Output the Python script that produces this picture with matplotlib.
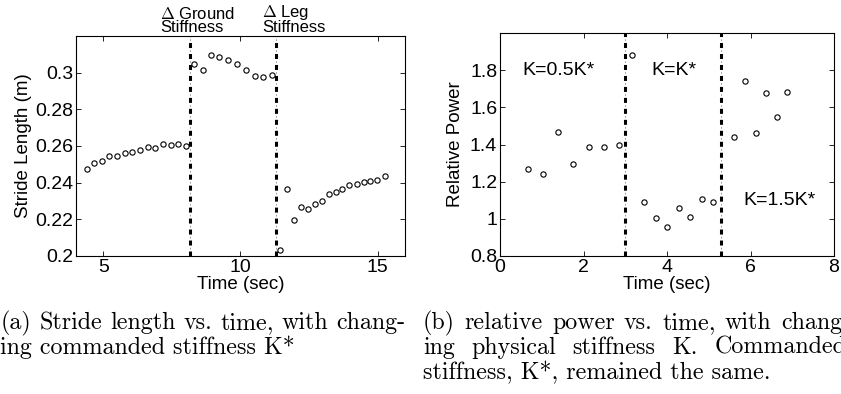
import matplotlib
matplotlib.use("Agg")
import matplotlib.pyplot as plt
import numpy as np

plt.rcParams['font.family'] = ['Liberation Sans', 'DejaVu Sans']
plt.rcParams['mathtext.fontset'] = 'cm'
plt.rcParams['lines.scale_dashes'] = False

# (a) stride length vs time
t_a = [4.39, 4.67, 4.94, 5.22, 5.50, 5.78, 6.05, 6.33, 6.61, 6.89, 7.17, 7.45, 7.73, 8.01,
       8.32, 8.63, 8.92, 9.23, 9.56, 9.88, 10.20, 10.52, 10.83, 11.14,
       11.44, 11.70, 11.95, 12.21, 12.46, 12.73, 12.97, 13.23, 13.47, 13.71, 13.97,
       14.24, 14.49, 14.74, 14.99, 15.26]
stride = [0.2476, 0.2507, 0.2520, 0.2547, 0.2547, 0.2564, 0.2568, 0.2580, 0.2597, 0.2589,
          0.2609, 0.2604, 0.2613, 0.2599,
          0.3047, 0.3016, 0.3099, 0.3084, 0.3068, 0.3046, 0.3013, 0.2984, 0.2974, 0.2985,
          0.2033, 0.2363, 0.2195, 0.2265, 0.2257, 0.2286, 0.2301, 0.2336, 0.2350, 0.2367,
          0.2385, 0.2391, 0.2405, 0.2407, 0.2414, 0.2434]
changes_a = [8.16, 11.29]
change_labels = ["$\\Delta$ Ground\nStiffness", "$\\Delta$ Leg\nStiffness"]
label_x = [7.06, 10.78]

# (b) relative power vs time
t_b = [0.66, 1.04, 1.40, 1.76, 2.12, 2.48, 2.84,
       3.16, 3.45, 3.74, 4.01, 4.29, 4.56, 4.83, 5.10,
       5.61, 5.88, 6.12, 6.38, 6.63, 6.87]
power = [1.269, 1.242, 1.466, 1.296, 1.387, 1.389, 1.396,
         1.879, 1.093, 1.005, 0.954, 1.059, 1.010, 1.107, 1.091,
         1.439, 1.743, 1.461, 1.676, 1.549, 1.685]
changes_b = [3.0, 5.3]
regions_b = ["K=0.5K*", "K=K*", "K=1.5K*"]
region_pos = [(1.39, 1.80), (4.16, 1.80), (6.69, 1.096)]

W, H = 841, 394
fig = plt.figure(figsize=(W / 100, H / 100), dpi=100)
ax1 = fig.add_axes([76 / W, 1 - 256 / H, 329 / W, 220 / H])
ax2 = fig.add_axes([500 / W, 1 - 256 / H, 334 / W, 223 / H])


def change_line(ax, x):
    # matlab style dash-dot: thick black dashes, thin grey dots in between
    ax.axvline(x, color='black', lw=2.2, linestyle=(0, (3.6, 4.3)))
    ax.axvline(x, color='#999999', lw=0.7, linestyle=(2.8, (1.2, 6.7)))


for ax in (ax1, ax2):
    ax.tick_params(direction='in', top=True, right=True, length=3.5, width=0.6,
                   labelsize=14, pad=2)
    for s in ax.spines.values():
        s.set_linewidth(0.8)

ax1.plot(t_a, stride, 'o', mfc='none', mec='black', ms=3.8, mew=0.8)
for x in changes_a:
    change_line(ax1, x)
for x, lab in zip(label_x, change_labels):
    ax1.text(x, 1.005, lab, transform=ax1.get_xaxis_transform(), ha='left',
             va='bottom', fontsize=12, linespacing=0.8)
ax1.set_xlim(4, 16)
ax1.set_ylim(0.2, 0.32)
ax1.set_xticks([5, 10, 15])
ax1.set_yticks([0.2, 0.22, 0.24, 0.26, 0.28, 0.3])
ax1.set_yticklabels(['0.2', '0.22', '0.24', '0.26', '0.28', '0.3'])
ax1.set_xlabel('Time (sec)', fontsize=13.5, labelpad=0)
ax1.set_ylabel('Stride Length (m)', fontsize=13.5, labelpad=2)

ax2.plot(t_b, power, 'o', mfc='none', mec='black', ms=3.8, mew=0.8)
for x in changes_b:
    change_line(ax2, x)
for lab, (x, y) in zip(regions_b, region_pos):
    ax2.text(x, y, lab, ha='center', va='center', fontsize=14)
ax2.set_xlim(0, 8)
ax2.set_ylim(0.8, 2.0)
ax2.set_xticks([0, 2, 4, 6, 8])
ax2.set_yticks([0.8, 1.0, 1.2, 1.4, 1.6, 1.8])
ax2.set_yticklabels(['0.8', '1', '1.2', '1.4', '1.6', '1.8'])
ax2.set_xlabel('Time (sec)', fontsize=13.5, labelpad=0)
ax2.set_ylabel('Relative Power', fontsize=13.5, labelpad=4)

# captions (justified by hand like the latex source)
cap_fs = 17.3
renderer = fig.canvas.get_renderer()


def caption_line(text, x0, y, x1=None):
    words = text.split(' ')
    if x1 is None:
        fig.text(x0 / W, 1 - y / H, text, family='cmr10', fontsize=cap_fs, va='baseline')
        return
    objs = [fig.text(0, 1 - y / H, w, family='cmr10', fontsize=cap_fs, va='baseline')
            for w in words]
    widths = [o.get_window_extent(renderer).width for o in objs]
    gap = (x1 - x0 - sum(widths)) / (len(words) - 1)
    x = x0
    for o, w in zip(objs, widths):
        o.set_x(x / W)
        x += w + gap


caption_line("(a) Stride length vs. time, with chang-", 1, 329, 405)
caption_line("ing commanded stiffness K*", 0, 354)
caption_line("(b) relative power vs. time, with chang-", 423, 329, 850)
caption_line("ing physical stiffness K. Commanded", 423, 354, 846)
caption_line("stiffness, K*, remained the same.", 423, 379)

fig.savefig('out.png', dpi=100)
